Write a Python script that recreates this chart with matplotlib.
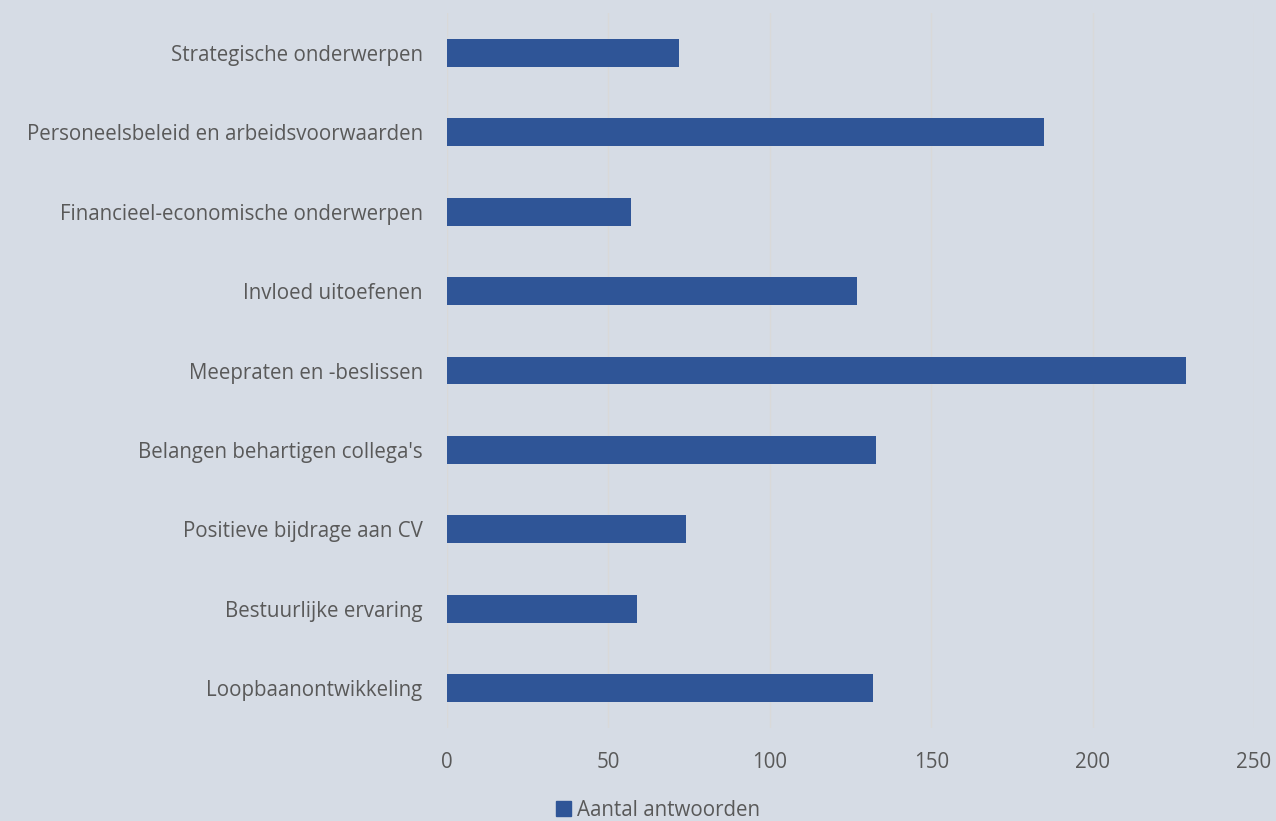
import matplotlib.pyplot as plt
from matplotlib.patches import Patch

categories = ["Loopbaanontwikkeling", "Bestuurlijke ervaring", "Positieve bijdrage aan CV",
              "Belangen behartigen collega's", "Meepraten en -beslissen", "Invloed uitoefenen",
              "Financieel-economische onderwerpen", "Personeelsbeleid en arbeidsvoorwaarden",
              "Strategische onderwerpen"]
values = [132, 59, 74, 133, 229, 127, 57, 185, 72]
xticks = [0, 50, 100, 150, 200, 250]

bg = "#D6DCE5"
bar_color = "#2F5597"
text_color = "#595959"

plt.rcParams['font.family'] = ['Open Sans', 'DejaVu Sans']
fs = 14.8

fig = plt.figure(figsize=(12.76, 8.21), dpi=100, facecolor=bg)
ax = fig.add_axes([447/1276, 1-728/821, (1254-447)/1276, (728-13)/821])
ax.set_facecolor(bg)

ax.barh(range(len(categories)), values, height=0.35, color=bar_color, zorder=3)
ax.set_xlim(0, 250)
ax.set_ylim(-0.5, len(categories)-0.5)
ax.set_yticks(range(len(categories)))
ax.set_yticklabels(categories, fontsize=fs, color=text_color)
ax.set_xticks(xticks)
ax.set_xticklabels([str(t) for t in xticks], fontsize=fs, color=text_color)
ax.tick_params(length=0, pad=17.5, axis='y')
ax.tick_params(length=0, pad=17, axis='x')
ax.grid(axis='x', color="#D9D9D9", linewidth=1, zorder=0)
for s in ax.spines.values():
    s.set_visible(False)

fig.legend(handles=[Patch(color=bar_color, label="Aantal antwoorden")],
           loc='center', bbox_to_anchor=(658/1276, 1-810/821), frameon=False,
           fontsize=fs, labelcolor=text_color, handlelength=0.7, handleheight=0.7,
           handletextpad=0.3)

fig.savefig("out.png", dpi=100, facecolor=bg)
